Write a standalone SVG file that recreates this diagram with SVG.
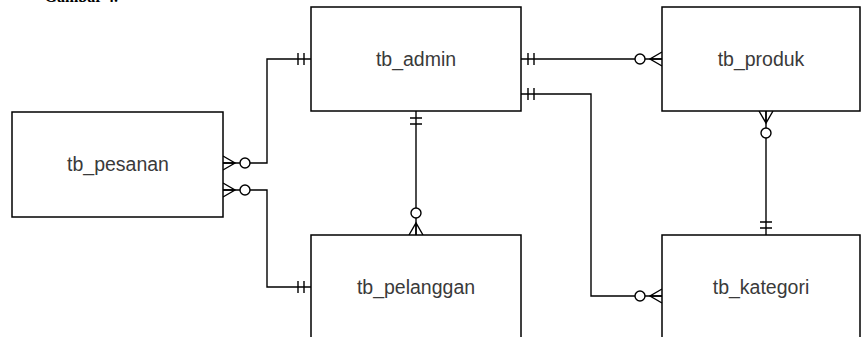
<svg xmlns="http://www.w3.org/2000/svg" width="861" height="337" viewBox="0 0 861 337">
<style>
.ent{fill:#fff;stroke:#000;stroke-width:1.5}
.lbl{font-family:"Liberation Sans",Arial,sans-serif;font-size:19.5px;fill:#3a3a3a;text-anchor:middle;dominant-baseline:central}
.con{fill:none;stroke:#000;stroke-width:1.4}
.mk{fill:none;stroke:#000;stroke-width:1.4}
.cap{font-family:"Liberation Serif","Times New Roman",serif;font-size:16px;font-weight:bold;fill:#000}
</style>
<defs>
<marker id="mandOne" markerUnits="userSpaceOnUse" orient="auto-start-reverse" refX="0" refY="0" markerWidth="30" markerHeight="20" viewBox="-25 -10 30 20" overflow="visible">
<path class="mk" d="M-7,-6V6M-13,-6V6"/>
</marker>
<marker id="zeroMany" markerUnits="userSpaceOnUse" orient="auto-start-reverse" refX="0" refY="0" markerWidth="30" markerHeight="20" viewBox="-25 -10 30 20" overflow="visible">
<path class="mk" d="M0,-7L-12,0L0,7M-12,0H0"/>
<circle cx="-22" cy="0" r="5" fill="#fff" stroke="#000" stroke-width="1.4"/>
</marker>
</defs>
<rect width="861" height="337" fill="#fff"/>
<text class="cap" x="118" y="2" text-anchor="end">Gambar 4.</text>
<g id="connectors">
<path class="con" d="M311,59H267V163H223" marker-start="url(#mandOne)" marker-end="url(#zeroMany)"/>
<path class="con" d="M223,190H267V287H311" marker-start="url(#zeroMany)" marker-end="url(#mandOne)"/>
<path class="con" d="M521,59H662" marker-start="url(#mandOne)" marker-end="url(#zeroMany)"/>
<path class="con" d="M521,94H591V296H662" marker-start="url(#mandOne)" marker-end="url(#zeroMany)"/>
<path class="con" d="M416,111V235" marker-start="url(#mandOne)" marker-end="url(#zeroMany)"/>
<path class="con" d="M766,111V235" marker-start="url(#zeroMany)" marker-end="url(#mandOne)"/>
</g>
<g id="tb_admin"><rect class="ent" x="311" y="7" width="210" height="104"/><text class="lbl" x="416" y="59">tb_admin</text></g>
<g id="tb_produk"><rect class="ent" x="662" y="7" width="198" height="104"/><text class="lbl" x="761" y="59">tb_produk</text></g>
<g id="tb_pesanan"><rect class="ent" x="12" y="112" width="211" height="105"/><text class="lbl" x="118" y="164">tb_pesanan</text></g>
<g id="tb_pelanggan"><rect class="ent" x="311" y="235" width="210" height="110"/><text class="lbl" x="416" y="287">tb_pelanggan</text></g>
<g id="tb_kategori"><rect class="ent" x="662" y="235" width="198" height="110"/><text class="lbl" x="761" y="287">tb_kategori</text></g>
</svg>
